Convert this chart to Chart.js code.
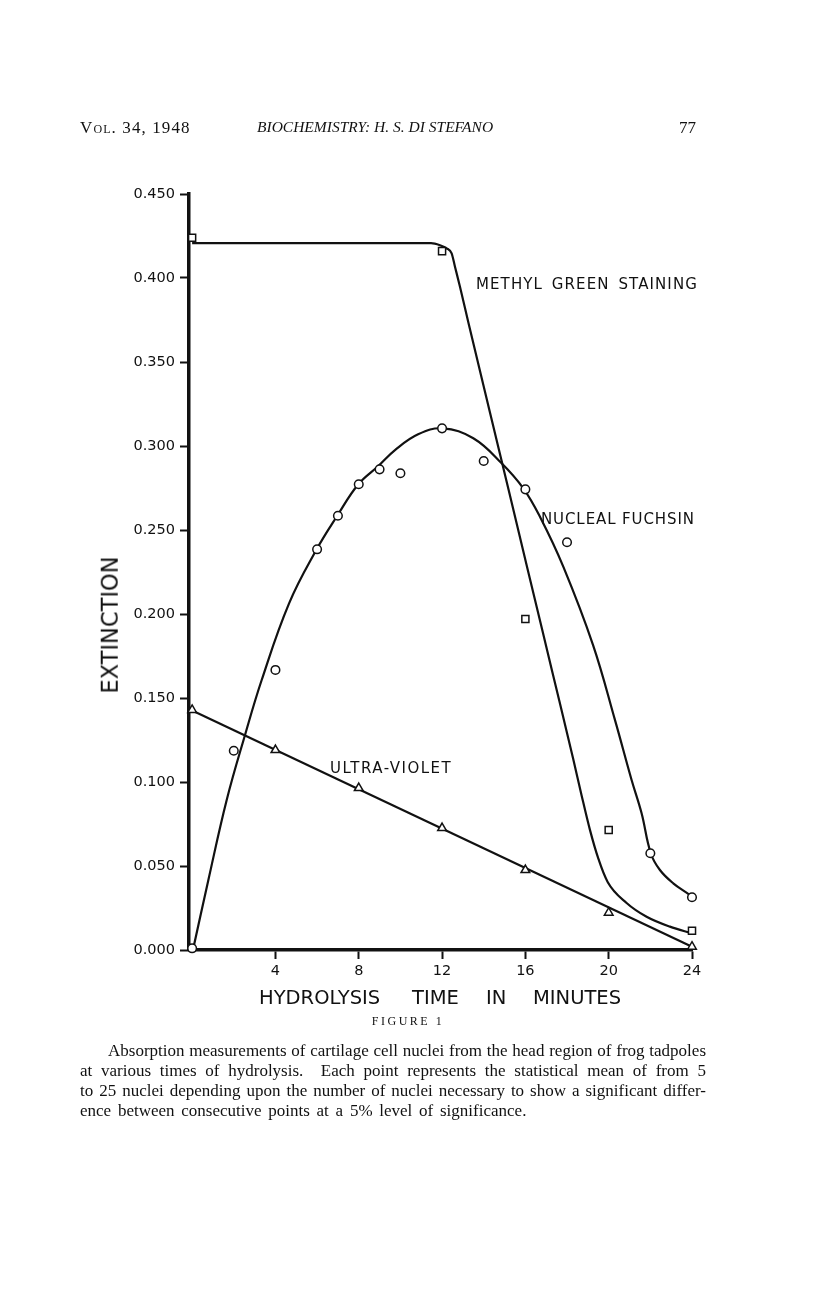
<!DOCTYPE html>
<html><head><meta charset="utf-8">
<script src="https://cdn.jsdelivr.net/npm/chart.js@4.4.0/dist/chart.umd.min.js"></script>
<style>
html,body{margin:0;padding:0;background:#fff;}
body{width:816px;height:1312px;position:relative;overflow:hidden;color:#111;}
#c{position:absolute;left:0;top:0;}
.t{position:absolute;white-space:nowrap;line-height:1;}
.serif{font-family:"Liberation Serif","DejaVu Serif",serif;}
.sans{font-family:"DejaVu Sans",sans-serif;}
.cap{position:absolute;left:80px;width:626px;font-family:"Liberation Serif",serif;font-size:17px;color:#111;}
.cap div{height:20px;line-height:20px;white-space:nowrap;}
.cap .j{text-align:justify;text-align-last:justify;white-space:normal;}
</style></head><body>
<canvas id="c" width="816" height="1312"></canvas>

<div class="t serif" style="left:80px;top:119px;font-size:17px;letter-spacing:1.1px;">V<span style="font-variant:small-caps;">ol</span>. 34, 1948</div>
<div class="t serif" style="left:257px;top:119px;font-size:15.5px;font-style:italic;">BIOCHEMISTRY: H. S. DI STEFANO</div>
<div class="t serif" style="left:679px;top:119px;font-size:17px;">77</div>

<div class="t sans" style="left:476px;top:277px;font-size:15px;letter-spacing:1.1px;word-spacing:3px;">METHYL GREEN STAINING</div>
<div class="t sans" style="left:541px;top:512px;font-size:15px;letter-spacing:0.9px;">NUCLEAL FUCHSIN</div>
<div class="t sans" style="left:330px;top:761px;font-size:15px;letter-spacing:1.5px;">ULTRA-VIOLET</div>

<div class="t sans" style="left:110px;top:625px;font-size:22.5px;transform:translate(-50%,-50%) rotate(-90deg);">EXTINCTION</div>

<div class="t sans" style="left:259px;top:988px;font-size:19.5px;">HYDROLYSIS</div>
<div class="t sans" style="left:412px;top:988px;font-size:19.5px;">TIME</div>
<div class="t sans" style="left:486px;top:988px;font-size:19.5px;">IN</div>
<div class="t sans" style="left:533px;top:988px;font-size:19.5px;">MINUTES</div>

<div class="t serif" style="left:408px;top:1015px;font-size:12px;letter-spacing:2.5px;transform:translateX(-50%);">FIGURE 1</div>

<div class="cap" style="top:1041px;">
<div class="j" style="margin-left:28px;">Absorption measurements of cartilage cell nuclei from the head region of frog tadpoles</div>
<div class="j">at various times of hydrolysis.&nbsp; Each point represents the statistical mean of from 5</div>
<div class="j">to 25 nuclei depending upon the number of nuclei necessary to show a significant differ-</div>
<div style="word-spacing:2.5px;">ence between consecutive points at a 5% level of significance.</div>
</div>

<script>
// ---- tick labels ----
const xTickValues = [4, 8, 12, 16, 20, 24];
const xTickLabels = ['4', '8', '12', '16', '20', '24'];
const yTickValues = [0, 0.05, 0.1, 0.15, 0.2, 0.25, 0.3, 0.35, 0.4, 0.45];
const yTickLabels = ['0.000', '0.050', '0.100', '0.150', '0.200', '0.250', '0.300', '0.350', '0.400', '0.450'];

// ---- measured points (minutes, extinction) ----
const methylTimes = [0, 12, 16, 20, 24];
const methylValues = [0.424, 0.416, 0.197, 0.0714, 0.0115];

const fuchsinTimes = [0, 2, 4, 6, 7, 8, 9, 10, 12, 14, 16, 18, 22, 24];
const fuchsinValues = [0.001, 0.1186, 0.1667, 0.2385, 0.2585, 0.2772, 0.2861, 0.2838, 0.3105, 0.2911, 0.2742, 0.2427, 0.0576, 0.0314];

const uvTimes = [0, 4, 8, 12, 16, 20, 24];
const uvValues = [0.1429, 0.119, 0.0964, 0.0726, 0.0476, 0.0222, 0.002];

// ---- hand-drawn fitted curves ----
const methylCurveX = [0, 11.47, 11.9, 12.22, 12.46, 12.62, 12.86, 13.26, 14.30, 15.2, 16.09, 17.3, 18.3, 18.7, 19.1, 19.5, 19.95, 20.86, 21.82, 22.94, 24];
const methylCurveY = [0.4207, 0.4207, 0.4195, 0.4177, 0.4147, 0.4067, 0.3948, 0.3737, 0.320, 0.2736, 0.2276, 0.1652, 0.1136, 0.092, 0.0715, 0.0545, 0.0405, 0.028, 0.0198, 0.0139, 0.0099];

const fuchsinCurveX = [0.06, 0.78, 1.66, 2.54, 3.34, 4.65, 5.98, 6.97, 7.98, 8.94, 9.74, 10.85, 12.03, 13.50, 14.86, 15.90, 16.70, 17.82, 19.25, 20.3, 21.10, 21.58, 22.02, 22.46, 23.10, 23.90, 24];
const fuchsinCurveY = [0.0012, 0.0417, 0.0893, 0.128, 0.1607, 0.2062, 0.2385, 0.2585, 0.2772, 0.2881, 0.2976, 0.307, 0.3105, 0.3046, 0.2897, 0.2748, 0.2579, 0.2282, 0.1815, 0.137, 0.1012, 0.0814, 0.0576, 0.0476, 0.0397, 0.0327, 0.0314];

const uvLineX = [0, 24];
const uvLineY = [0.1426, 0.002];

const INK = '#111';
const pts = (xs, ys) => xs.map((x, i) => ({ x: x, y: ys[i] }));

const markerBase = {
  showLine: false,
  pointBackgroundColor: '#fff',
  pointBorderColor: INK,
  pointBorderWidth: 1.5,
  clip: false
};
const lineBase = {
  showLine: true,
  borderColor: INK,
  borderWidth: 2.2,
  pointRadius: 0,
  fill: false,
  clip: false
};

const tickFont = { family: 'DejaVu Sans', size: 14.5 };

new Chart(document.getElementById('c'), {
  type: 'scatter',
  data: {
    datasets: [
      Object.assign({ label: 'Nucleal fuchsin', data: pts(fuchsinTimes, fuchsinValues), pointStyle: 'circle', pointRadius: 4.3 }, markerBase),
      Object.assign({ label: 'Methyl green staining', data: pts(methylTimes, methylValues), pointStyle: 'rect', pointRadius: 5 }, markerBase),
      Object.assign({ label: 'Ultra-violet', data: pts(uvTimes, uvValues), pointStyle: 'triangle', pointRadius: 5 }, markerBase),
      Object.assign({ label: 'Methyl green curve', data: pts(methylCurveX, methylCurveY), cubicInterpolationMode: 'monotone' }, lineBase),
      Object.assign({ label: 'Nucleal fuchsin curve', data: pts(fuchsinCurveX, fuchsinCurveY), tension: 0.4 }, lineBase),
      Object.assign({ label: 'Ultra-violet line', data: pts(uvLineX, uvLineY), tension: 0 }, lineBase)
    ]
  },
  options: {
    responsive: false,
    animation: false,
    devicePixelRatio: 1,
    layout: { padding: { top: 194, right: 124, bottom: 0, left: 0 } },
    plugins: { legend: { display: false }, tooltip: { enabled: false }, title: { display: false } },
    scales: {
      x: {
        type: 'linear',
        min: -0.15,
        max: 24,
        afterBuildTicks: s => { s.ticks = xTickValues.map(v => ({ value: v })); },
        afterFit: s => { s.height = 362; },
        ticks: {
          autoSkip: false,
          maxRotation: 0,
          padding: 4,
          color: INK,
          font: tickFont,
          callback: v => xTickLabels[xTickValues.indexOf(v)]
        },
        grid: { drawOnChartArea: false, drawTicks: true, tickLength: 9, tickWidth: 2, tickColor: INK },
        border: { display: true, color: INK, width: 3.5 }
      },
      y: {
        type: 'linear',
        min: 0,
        max: 0.45,
        afterBuildTicks: s => { s.ticks = yTickValues.map(v => ({ value: v })); },
        afterFit: s => { s.width = 189; },
        ticks: {
          autoSkip: false,
          padding: 5,
          color: INK,
          font: tickFont,
          callback: v => yTickLabels[yTickValues.indexOf(v)]
        },
        grid: { drawOnChartArea: false, drawTicks: true, tickLength: 9, tickWidth: 2, tickColor: INK },
        border: { display: true, color: INK, width: 3.5 }
      }
    }
  }
});
</script>
</body></html>
